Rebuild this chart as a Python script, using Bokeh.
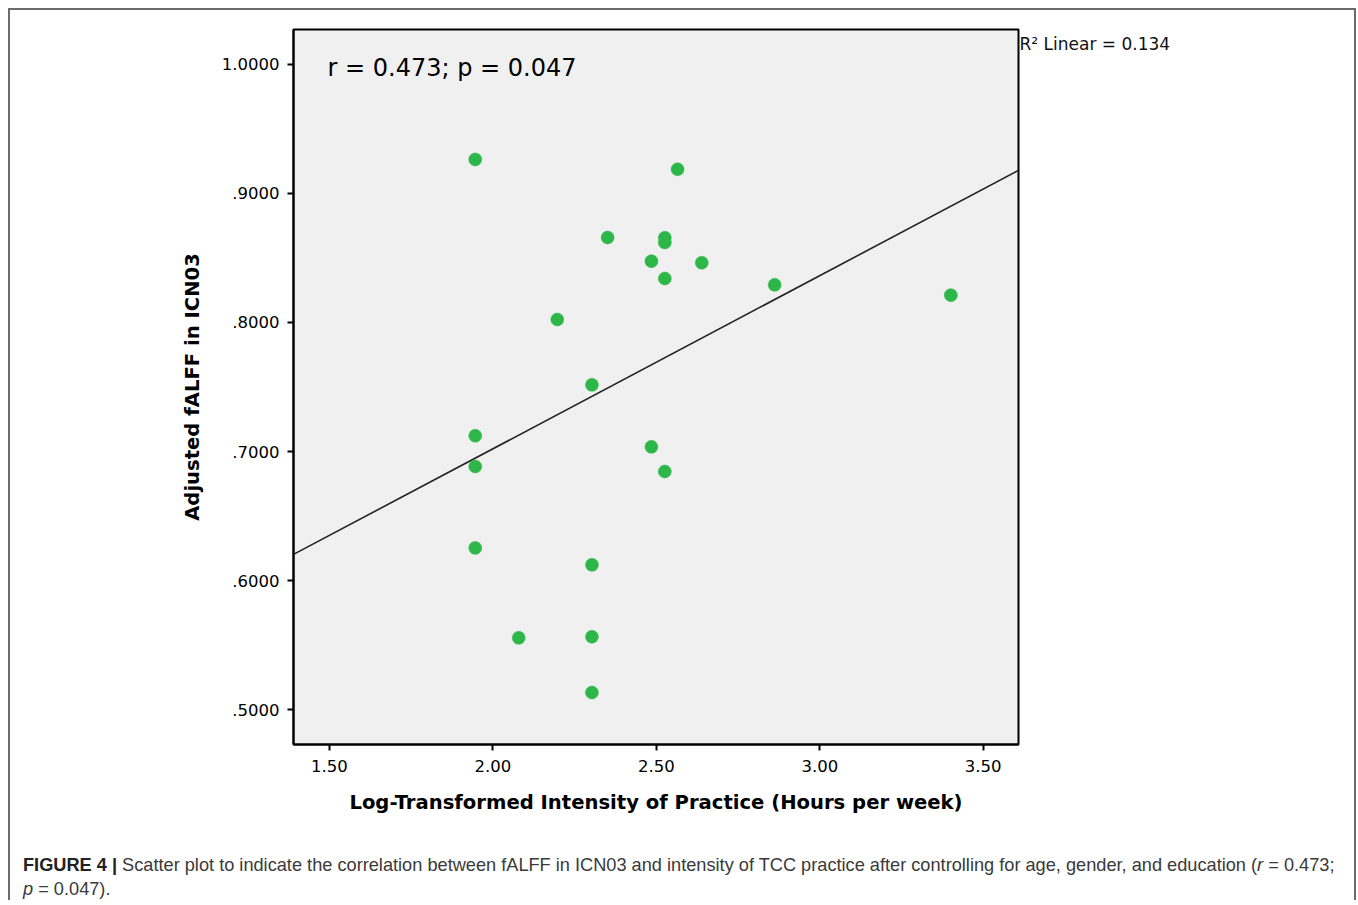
from bokeh.plotting import figure
from bokeh.models import Label, Range1d, FixedTicker, LinearAxis, Div
from bokeh.layouts import column
from bokeh.embed import file_html
from bokeh.resources import INLINE

# ---------------- data ----------------
log_hours = [1.946, 2.565, 2.351, 2.526, 2.526, 2.485, 2.639, 2.526, 2.862, 3.401,
             2.197, 2.303, 1.946, 2.485, 1.946, 2.526, 1.946, 2.303, 2.079, 2.303, 2.303]
falff = [0.9264, 0.9188, 0.8659, 0.8657, 0.8620, 0.8475, 0.8463, 0.8341, 0.8292, 0.8212,
         0.8023, 0.7517, 0.7122, 0.7036, 0.6884, 0.6845, 0.6253, 0.6122, 0.5556, 0.5564, 0.5132]
fit_intercept = 0.4337
fit_slope = 0.1342
x_ticks = [1.5, 2.0, 2.5, 3.0, 3.5]
x_tick_labels = ["1.50", "2.00", "2.50", "3.00", "3.50"]
y_ticks = [0.5, 0.6, 0.7, 0.8, 0.9, 1.0]
y_tick_labels = [".5000", ".6000", ".7000", ".8000", ".9000", "1.0000"]
stat_text = "r = 0.473; p = 0.047"
r2_text = "R\u00b2 Linear = 0.134"
x_title = "Log-Transformed Intensity of Practice (Hours per week)"
y_title = "Adjusted fALFF in ICN03"
cap_bold = "FIGURE 4 |"
cap_text_a = ("Scatter plot to indicate the correlation between fALFF in ICN03 and intensity of "
              "TCC practice after controlling for age, gender, and education (")
cap_r = "r"
cap_text_b = " = 0.473;"
cap_p = "p"
cap_text_c = " = 0.047)."

# ---------------- layout ----------------
X0, X1 = 1.39, 3.608
Y0, Y1 = 0.4729, 1.0271
W, H = 1344, 820
CAP_H = 70
ML, MT, FW, FH = 283, 19, 725, 715
ORG = 10  # canvas origin on the page (8px margin + 2px border)


def dy(py):
    return Y1 - (py - ORG - MT) / FH * (Y1 - Y0)


p = figure(width=W, height=H, output_backend="svg", toolbar_location=None,
           x_range=Range1d(X0, X1), y_range=Range1d(Y0, Y1),
           min_border_left=ML, min_border_top=MT,
           min_border_right=W - ML - FW, min_border_bottom=H - MT - FH)
p.background_fill_color = "#f0f0f0"
p.border_fill_color = "white"
p.outline_line_color = "black"
p.outline_line_width = 2
p.grid.visible = False

for ax in (p.xaxis[0], p.yaxis[0]):
    ax.axis_line_color = "black"
    ax.axis_line_width = 2
    ax.major_tick_line_color = "black"
    ax.major_tick_line_width = 2
    ax.major_tick_in = 0
    ax.major_tick_out = 6
    ax.minor_tick_line_color = None
    ax.major_label_text_font = "DejaVu Sans"
    ax.major_label_text_font_size = "16.5px"
    ax.major_label_text_color = "black"
    ax.axis_label_text_font = "DejaVu Sans"
    ax.axis_label_text_font_style = "bold"
    ax.axis_label_text_font_size = "19.6px"
    ax.axis_label_text_color = "black"

p.xaxis.ticker = FixedTicker(ticks=x_ticks)
p.xaxis.major_label_overrides = {t: s for t, s in zip(x_ticks, x_tick_labels)}
p.yaxis.ticker = FixedTicker(ticks=y_ticks)
p.yaxis.major_label_overrides = {t: s for t, s in zip(y_ticks, y_tick_labels)}
p.xaxis.axis_label = x_title
p.yaxis.axis_label = y_title
p.xaxis.major_label_standoff = 9
p.xaxis.axis_label_standoff = 16
p.yaxis.major_label_standoff = 8
p.yaxis.axis_label_standoff = 15

# R² note, placed to the right of the frame top via a bare right-side axis
r2_y = round(dy(43), 4)
r2_axis = LinearAxis(ticker=FixedTicker(ticks=[r2_y]), major_label_overrides={r2_y: r2_text},
                     axis_line_color=None, major_tick_line_color=None,
                     minor_tick_line_color=None, major_tick_in=0, major_tick_out=0,
                     major_label_standoff=1, major_label_text_font="DejaVu Sans",
                     major_label_text_font_size="17px", major_label_text_color="#111111")
p.add_layout(r2_axis, "right")

# fit line
p.line([X0, X1], [fit_intercept + fit_slope * X0, fit_intercept + fit_slope * X1],
       line_color="#222222", line_width=1.6)

# points
p.scatter(log_hours, falff, size=13, fill_color="#2db748", line_color="#2db748",
          line_width=0.5)

# in-frame statistic
p.add_layout(Label(x=X0, y=dy(67), x_offset=327 - ORG - ML, text=stat_text,
                   text_font="DejaVu Sans", text_font_size="24px",
                   text_baseline="middle", text_color="black"))

caption_html = (
    '<div style="padding:18px 0 0 8px; font-family:\'Liberation Sans\', Arial, sans-serif;'
    ' font-size:18.2px; line-height:24px; color:#3a3a3a; white-space:nowrap;">'
    f'<b style="color:#222;">{cap_bold}</b> {cap_text_a}<i>{cap_r}</i>{cap_text_b}<br>'
    f'<i>{cap_p}</i>{cap_text_c}</div>'
)
cap = Div(text=caption_html, width=W, height=CAP_H)

layout = column(p, cap, spacing=0, width=W, height=H + CAP_H, sizing_mode="fixed")
layout.styles = {"border-top": "2px solid #6b6b6b", "border-left": "2px solid #6b6b6b",
                 "border-right": "2px solid #6b6b6b", "margin-left": "8px",
                 "margin-top": "8px", "box-sizing": "content-box"}

open("out.html", "w").write(file_html(layout, INLINE))
